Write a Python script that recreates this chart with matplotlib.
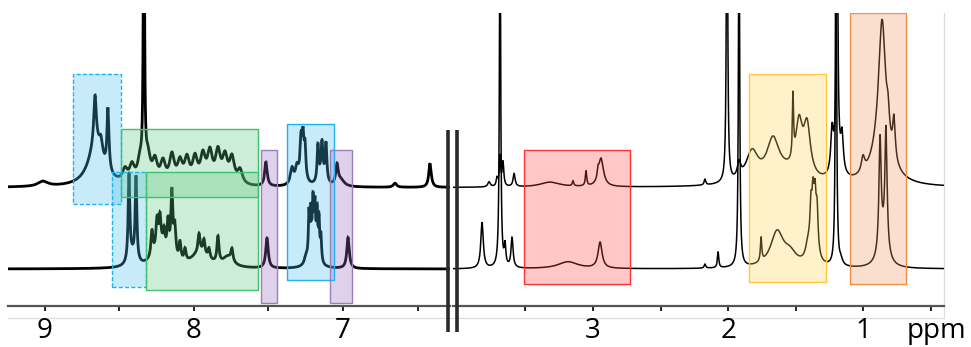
import numpy as np
import matplotlib
matplotlib.use("Agg")
import matplotlib.pyplot as plt
from matplotlib.patches import Rectangle
from matplotlib.lines import Line2D

plt.rcParams['font.family'] = ['Open Sans', 'DejaVu Sans']

# ---------------- data (ppm, intensity, half-width in ppm) ----------------
# baselines (intensity units)
base_upper = 118.0
base_lower = 36.5

# aromatic region (left panel), upper spectrum
ul_pos = [9.013, 8.658, 8.664, 8.624, 8.577, 8.336,
          8.463, 8.416, 8.362, 8.309, 8.262, 8.208, 8.148, 8.094, 8.047,
          7.993, 7.940, 7.893, 7.839, 7.792, 7.745, 7.691,
          7.517, 7.342, 7.309, 7.282, 7.268, 7.255, 7.275, 7.168, 7.141,
          7.114, 7.141, 7.040, 7.013, 6.651, 6.416]
ul_h = [5, 42, 48, 15, 62, 400,
        12, 16, 20, 24, 21, 20, 27, 20, 23,
        24, 26, 29, 30, 25, 25, 14,
        24, 16, 15, 30, 33, 30, 15, 36, 30,
        38, 12, 20, 6, 4, 24]
ul_w = [0.040, 0.060, 0.010, 0.013, 0.008, 0.004,
        0.020, 0.020, 0.020, 0.020, 0.020, 0.020, 0.020, 0.020, 0.020,
        0.020, 0.020, 0.020, 0.020, 0.020, 0.020, 0.020,
        0.010, 0.013, 0.013, 0.0067, 0.0067, 0.0067, 0.020, 0.0067, 0.0067,
        0.0067, 0.020, 0.010, 0.027, 0.013, 0.010]

# aromatic region (left panel), lower spectrum
ll_pos = [8.436, 8.389, 8.416,
          8.282, 8.248, 8.228, 8.201, 8.174, 8.148, 8.128, 8.094, 8.060,
          7.966, 7.933, 7.899, 7.839, 7.745, 8.228, 7.960, 7.772,
          7.510, 7.248, 7.228, 7.215, 7.201, 7.188, 7.174, 7.161, 7.148, 7.195,
          6.966]
ll_h = [86, 84, 10,
        25, 28, 28, 18, 32, 65, 30, 18, 12,
        18, 14, 10, 26, 12, 20, 15, 10,
        30, 8, 45, 42, 48, 44, 42, 38, 25, 15,
        31]
ll_w = [0.0067, 0.0067, 0.027,
        0.008, 0.008, 0.008, 0.008, 0.008, 0.008, 0.008, 0.008, 0.008,
        0.008, 0.008, 0.008, 0.008, 0.008, 0.054, 0.067, 0.040,
        0.010, 0.013, 0.005, 0.005, 0.005, 0.005, 0.005, 0.005, 0.005, 0.027,
        0.010]

# aliphatic region (right panel), upper spectrum
ru_pos = [3.769, 3.710, 3.688, 3.666, 3.584, 3.318, 3.148, 3.052, 2.941, 2.963,
          2.172, 2.009, 1.920,
          1.824, 1.669, 1.521, 1.476, 1.417, 1.580,
          1.232, 1.195, 1.158, 1.195,
          0.862, 0.862, 1.003, 0.774, 0.818]
ru_h = [5, 8, 30, 24, 13, 5, 5, 15, 28, 8,
        6, 400, 15,
        30, 38, 62, 50, 50, 10,
        40, 400, 35, 25,
        120, 45, 15, 40, 20]
ru_w = [0.011, 0.007, 0.006, 0.007, 0.009, 0.089, 0.006, 0.006, 0.022, 0.007,
        0.007, 0.005, 0.015,
        0.055, 0.055, 0.005, 0.030, 0.030, 0.148,
        0.011, 0.005, 0.011, 0.030,
        0.030, 0.074, 0.015, 0.011, 0.011]

# aliphatic region (right panel), lower spectrum
rl_pos = [3.821, 3.688, 3.651, 3.599, 3.185, 2.948,
          2.172, 2.075, 1.920,
          1.757, 1.639, 1.543, 1.410, 1.388, 1.373, 1.358, 1.343, 1.365,
          1.203, 1.166,
          0.877, 0.833, 0.855]
rl_h = [46, 400, 20, 30, 7, 26,
        4, 16, 400,
        24, 35, 12, 15, 40, 45, 45, 40, 15,
        400, 5,
        110, 120, 25]
rl_w = [0.011, 0.005, 0.007, 0.009, 0.089, 0.018,
        0.007, 0.006, 0.005,
        0.006, 0.058, 0.059, 0.022, 0.009, 0.009, 0.009, 0.009, 0.030,
        0.005, 0.015,
        0.0096, 0.0096, 0.037]

# highlighted regions: (ppm_left, ppm_right, y_bottom, y_top, colour, dashed)
left_boxes = [
    (8.812, 8.490, 101.5, 231.5, 'blue', True),
    (8.490, 7.570, 108.5, 176.5, 'green', False),
    (8.550, 8.322, 18.5, 133.5, 'blue', True),
    (8.322, 7.570, 15.5, 133.5, 'green', False),
    (7.550, 7.443, 2.5, 155.5, 'purple', False),
    (7.376, 7.060, 25.5, 181.5, 'blue', False),
    (7.087, 6.940, 2.5, 155.5, 'purple', False),
]
right_boxes = [
    (3.510, 2.726, 21.5, 155.5, 'red', False),
    (1.846, 1.277, 23.5, 231.5, 'yellow', False),
    (1.099, 0.685, 21.5, 292.5, 'orange', False),
]
box_fill = {'blue': '#48c0ee', 'green': '#58c67d', 'purple': '#9869c0',
            'red': '#ff4848', 'yellow': '#ffd455', 'orange': '#f09862'}
box_edge = {'blue': '#1eb4f0', 'green': '#40c070', 'purple': '#9a80b8',
            'red': '#ff3333', 'yellow': '#ffc83c', 'orange': '#f0904a'}

left_major = [9, 8, 7]
left_minor = [8.5, 7.5, 6.5]
right_major = [3, 2, 1]
right_minor = [3.5, 2.5, 1.5, 0.5]

# ---------------- figure ----------------
W, H = 971, 347
fig = plt.figure(figsize=(W / 100, H / 100), dpi=100)

def px_rect(x0, x1, y_top, y_bot):
    return [x0 / W, 1 - y_bot / H, (x1 - x0) / W, (y_bot - y_top) / H]

ax_l = fig.add_axes(px_rect(8, 450, 13, 305.5))
ax_r = fig.add_axes(px_rect(453, 944, 13, 305.5))
ax_l.set_xlim(9.248, 6.282)
ax_r.set_xlim(4.036, 0.404)

def spectrum(x, base, pos, h, w):
    p = np.asarray(pos)[:, None]
    hh = np.asarray(h, float)[:, None]
    ww = np.asarray(w)[:, None]
    return base + np.sum(hh * ww ** 2 / ((x[None, :] - p) ** 2 + ww ** 2), axis=0)

for ax, (up, uh, uw), (lp, lh, lw_), lw, boxes in [
        (ax_l, (ul_pos, ul_h, ul_w), (ll_pos, ll_h, ll_w), 2.0, left_boxes),
        (ax_r, (ru_pos, ru_h, ru_w), (rl_pos, rl_h, rl_w), 1.1, right_boxes)]:
    lo, hi = sorted(ax.get_xlim())
    x = np.linspace(lo, hi, 6000)
    ax.plot(x, spectrum(x, base_upper, up, uh, uw), color='black', lw=lw,
            zorder=2, solid_joinstyle='miter')
    ax.plot(x, spectrum(x, base_lower, lp, lh, lw_), color='black', lw=lw,
            zorder=2, solid_joinstyle='miter')
    ax.set_ylim(0, 292.5)
    for (a, b, y0, y1, c, dashed) in boxes:
        ax.add_patch(Rectangle((a, y0), b - a, y1 - y0, facecolor=box_fill[c],
                               alpha=0.3, edgecolor='none', zorder=3))
        ax.add_patch(Rectangle((a, y0), b - a, y1 - y0, facecolor='none',
                               edgecolor=box_edge[c], lw=1.0,
                               linestyle=(0, (3, 1.5)) if dashed else '-',
                               zorder=4))
    for s in ['top', 'left', 'right']:
        ax.spines[s].set_visible(False)
    ax.spines['bottom'].set_color('#555555')
    ax.spines['bottom'].set_linewidth(1.6)
    ax.set_yticks([])
    ax.patch.set_alpha(0)

for ax, maj, mnr in [(ax_l, left_major, left_minor), (ax_r, right_major, right_minor)]:
    ax.set_xticks(maj)
    ax.set_xticklabels([str(v) for v in maj])
    ax.set_xticks(mnr, minor=True)
    ax.tick_params(axis='x', which='both', direction='out', length=3.5, width=1.4,
                   color='#222222', labelsize=20, pad=5)

# faint frame lines
fig.add_artist(Line2D([8 / W, 944 / W], [1 - 318 / H, 1 - 318 / H],
                      color='#dddddd', lw=0.9, zorder=0))
fig.add_artist(Line2D([944 / W, 944 / W], [1 - 13 / H, 1 - 318 / H],
                      color='#dddddd', lw=0.9, zorder=0))
# axis break marks
for xb in (448, 457):
    fig.add_artist(Line2D([xb / W, xb / W], [1 - 130 / H, 1 - 332 / H],
                          color='#2a2a2a', lw=2.6, zorder=10,
                          solid_capstyle='butt'))
fig.text(936 / W, 1 - 331 / H, 'ppm', ha='center', va='center', fontsize=20)

fig.savefig('out.png', dpi=100)
